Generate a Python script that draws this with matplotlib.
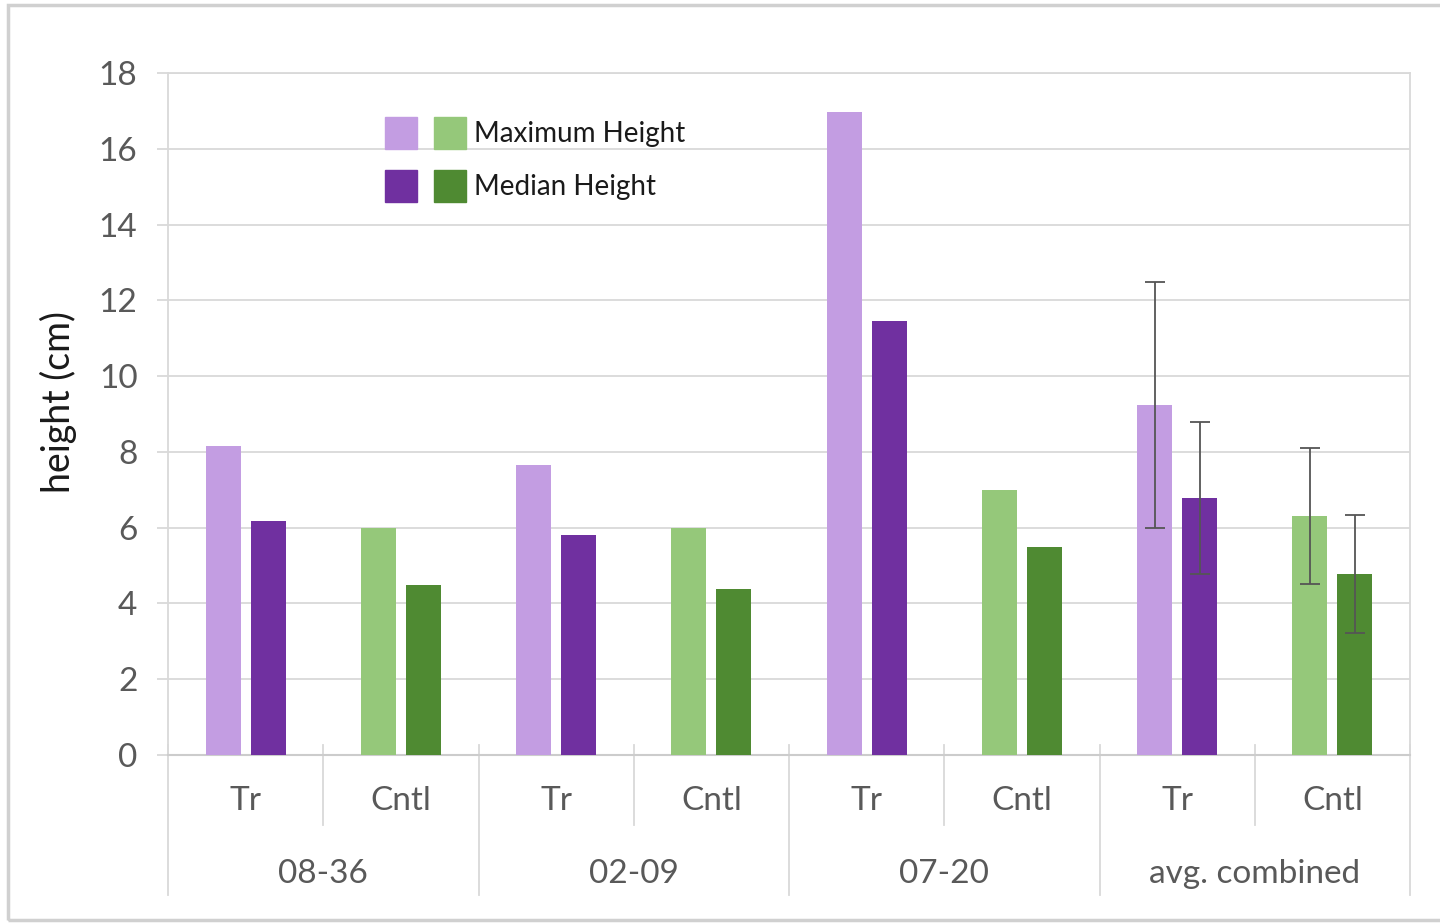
import numpy as np
import matplotlib.pyplot as plt
from matplotlib.patches import Patch, Rectangle
from matplotlib.legend_handler import HandlerTuple
import matplotlib.transforms as mtransforms

plt.rcParams['font.family'] = ['Lato', 'DejaVu Sans']

# data
groups = ['08-36', '02-09', '07-20', 'avg. combined']
subgroups = ['Tr', 'Cntl']
tr_max = [8.15, 7.65, 16.97, 9.23]
tr_med = [6.17, 5.80, 11.45, 6.78]
cn_max = [6.00, 6.00, 6.99, 6.31]
cn_med = [4.49, 4.38, 5.49, 4.78]
# error bars only on the combined average
tr_max_err = [0, 0, 0, 3.25]
tr_med_err = [0, 0, 0, 2.00]
cn_max_err = [0, 0, 0, 1.80]
cn_med_err = [0, 0, 0, 1.55]

c_lpur = '#c39de2'
c_dpur = '#7030a0'
c_lgrn = '#95c87a'
c_dgrn = '#4f8a32'
grid_c = '#d9d9d9'
txt_c = '#595959'
fs = 24

fig = plt.figure(figsize=(14.4, 9.23), dpi=100)
ax = fig.add_axes([168/1440, 1-755/923, 1242/1440, 682/923])

ng = len(groups)
x_tr = np.arange(ng) * 2
x_cn = x_tr + 1
w = 0.226
off = 0.145

ax.bar(x_tr - off, tr_max, w, color=c_lpur, zorder=3)
ax.bar(x_tr + off, tr_med, w, color=c_dpur, zorder=3)
ax.bar(x_cn - off, cn_max, w, color=c_lgrn, zorder=3)
ax.bar(x_cn + off, cn_med, w, color=c_dgrn, zorder=3)

ekw = dict(fmt='none', ecolor='#555555', elinewidth=1.3, capsize=7, capthick=1.3, zorder=4)
sel = np.array(tr_max_err) > 0
ax.errorbar((x_tr - off)[sel], np.array(tr_max)[sel], yerr=np.array(tr_max_err)[sel], **ekw)
ax.errorbar((x_tr + off)[sel], np.array(tr_med)[sel], yerr=np.array(tr_med_err)[sel], **ekw)
ax.errorbar((x_cn - off)[sel], np.array(cn_max)[sel], yerr=np.array(cn_max_err)[sel], **ekw)
ax.errorbar((x_cn + off)[sel], np.array(cn_med)[sel], yerr=np.array(cn_med_err)[sel], **ekw)

ax.set_xlim(-0.5, 2 * ng - 0.5)
ax.set_ylim(0, 18)
ax.set_yticks(np.arange(0, 19, 2))
ax.yaxis.grid(True, color=grid_c, linewidth=1.3, zorder=0)
ax.set_axisbelow(True)
ax.tick_params(axis='y', colors=grid_c, length=8, width=1.3, pad=14,
               labelcolor=txt_c, labelsize=fs)
ax.set_xticks([])
for s in ['left', 'right', 'top']:
    ax.spines[s].set_color(grid_c)
    ax.spines[s].set_linewidth(1.3)
ax.spines['bottom'].set_color('#cccccc')
ax.spines['bottom'].set_linewidth(1.5)

# two-level category axis
trans = mtransforms.blended_transform_factory(ax.transData, ax.transAxes)
for i, g in enumerate(groups):
    ax.text(x_tr[i], -0.068, subgroups[0], transform=trans, ha='center', va='center',
            fontsize=fs, color=txt_c)
    ax.text(x_cn[i], -0.068, subgroups[1], transform=trans, ha='center', va='center',
            fontsize=fs, color=txt_c)
    ax.text(x_tr[i] + 0.5, -0.174, g, transform=trans, ha='center', va='center',
            fontsize=fs, color=txt_c)
    ax.plot([x_tr[i] + 0.5] * 2, [0.0147, -0.103], transform=trans, color=grid_c,
            linewidth=1.3, clip_on=False)
for xb in np.append(x_tr - 0.5, x_cn[-1] + 0.5):
    ax.plot([xb, xb], [0.0147, -0.205], transform=trans, color=grid_c,
            linewidth=1.3, clip_on=False)

fig.text(58/1440, 1-402/923, 'height (cm)', rotation=90, ha='center', va='center',
         fontsize=27, color='#1a1a1a')

# legend: purple and green swatch side by side for each measure
h_max = (Patch(color=c_lpur), Patch(color=c_lgrn))
h_med = (Patch(color=c_dpur), Patch(color=c_dgrn))
ax.legend([h_max, h_med], ['Maximum Height', 'Median Height'],
          handler_map={tuple: HandlerTuple(ndivide=None, pad=0.59)},
          loc='upper left', bbox_to_anchor=(0.175, 0.936), frameon=False,
          fontsize=20, handlelength=2.9, handleheight=1.4, handletextpad=0.3,
          labelspacing=0.75, borderpad=0, borderaxespad=0, labelcolor='#1a1a1a')

# outer chart frame
fig.patches.append(Rectangle((8/1440, 3/923), 1.2, 1-8/923, transform=fig.transFigure,
                             fill=False, edgecolor='#d0d0d0', linewidth=2.5))

fig.savefig('out.png', dpi=100)
